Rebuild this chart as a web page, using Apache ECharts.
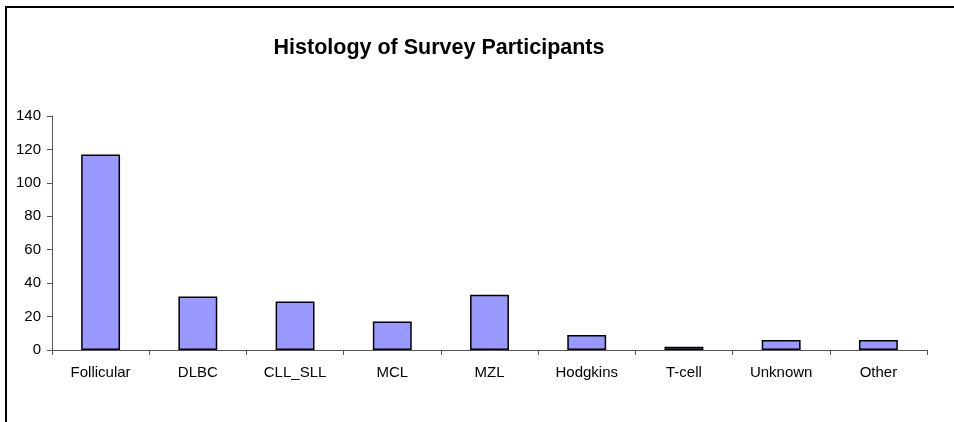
<!DOCTYPE html>
<html>
<head>
<meta charset="utf-8">
<script src="https://cdn.jsdelivr.net/npm/echarts@6/dist/echarts.min.js"></script>
<style>
html,body{margin:0;padding:0;background:#fff;}
#frame{position:absolute;left:5px;top:6px;width:949px;height:416px;border-left:2px solid #000;border-top:2px solid #000;box-sizing:border-box;}
#chart{position:absolute;left:0;top:0;width:954px;height:422px;}
</style>
</head>
<body>
<div id="frame"></div>
<div id="chart"></div>
<script>
const categories = ["Follicular","DLBC","CLL_SLL","MCL","MZL","Hodgkins","T-cell","Unknown","Other"];
const counts = [117, 32, 29, 17, 33, 9, 2, 6, 6];
const yTicks = [0, 20, 40, 60, 80, 100, 120, 140];
const titleText = "Histology of Survey Participants";

const chart = echarts.init(document.getElementById('chart'), null, {renderer:'canvas'});
chart.setOption({
  backgroundColor: 'transparent',
  animation: false,
  title: {
    text: titleText,
    left: 434, top: 32, textAlign: 'center',
    textStyle: {fontFamily: 'Liberation Sans, Arial, sans-serif', fontSize: 21.5, fontWeight: 'bold', color: '#000'}
  },
  grid: {left: 52, right: 27, top: 116, bottom: 72, containLabel: false},
  xAxis: {
    type: 'category',
    data: categories,
    axisLine: {lineStyle: {color: '#555', width: 1}},
    axisTick: {show: true, alignWithLabel: false, length: 5, lineStyle: {color: '#555'}},
    axisLabel: {color: '#000', fontSize: 15, fontFamily: 'Liberation Sans, Arial, sans-serif', margin: 15, interval: 0}
  },
  yAxis: {
    type: 'value',
    min: yTicks[0], max: yTicks[yTicks.length-1], interval: 20,
    splitLine: {show: false},
    axisLine: {show: true, lineStyle: {color: '#555', width: 1}},
    axisTick: {show: true, length: 5, lineStyle: {color: '#555'}},
    axisLabel: {color: '#000', fontSize: 15, fontFamily: 'Liberation Sans, Arial, sans-serif', margin: 11}
  },
  series: [{
    type: 'bar',
    data: counts,
    barCategoryGap: '60%',
    itemStyle: {color: '#9999FF', borderColor: '#000', borderWidth: 1.5}
  }]
});
</script>
</body>
</html>
